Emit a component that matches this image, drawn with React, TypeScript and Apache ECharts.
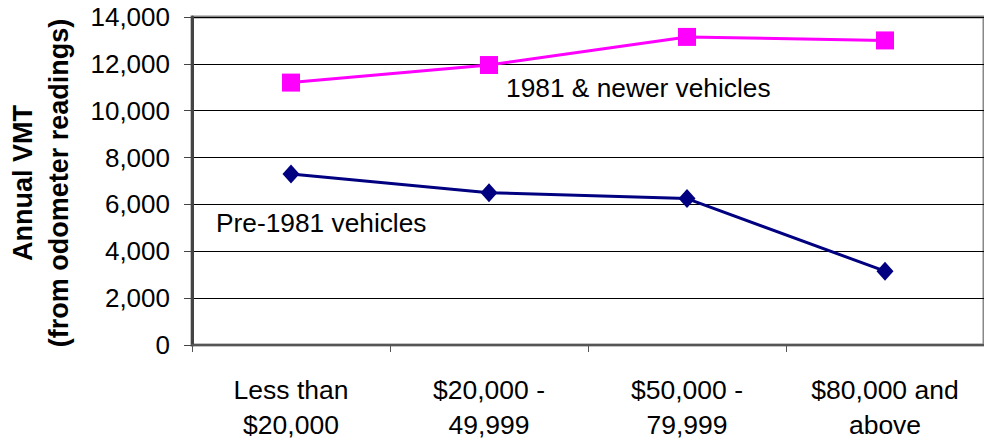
import React, { useEffect, useRef } from "react";
import * as echarts from "echarts";

const categories = ["Less than\n$20,000", "$20,000 -\n49,999", "$50,000 -\n79,999", "$80,000 and\nabove"];
const newerVehicles = [11200, 11950, 13150, 13000];
const preVehicles = [7300, 6500, 6250, 3150];
const yMin = 0;
const yMax = 14000;
const yInterval = 2000;

const FONT = "'Liberation Sans', Arial, sans-serif";

export default function App() {
  const ref = useRef<HTMLDivElement>(null);
  useEffect(() => {
    if (!ref.current) return;
    const chart = echarts.init(ref.current, null, { renderer: "svg" });
    chart.setOption({
      animation: false,
      backgroundColor: "#ffffff",
      grid: {
        left: 192,
        top: 17,
        width: 800,
        height: 332,
        show: true,
        borderColor: "#888888",
        borderWidth: 3,
        backgroundColor: "transparent",
      },
      xAxis: {
        type: "category",
        data: categories,
        boundaryGap: true,
        axisLine: { show: true, lineStyle: { color: "#555555", width: 2 } },
        axisTick: { show: true, length: 7, alignWithLabel: false, lineStyle: { color: "#555555", width: 1 } },
        axisLabel: {
          color: "#000000",
          fontFamily: FONT,
          fontSize: 26.5,
          lineHeight: 35,
          margin: 27,
          interval: 0,
        },
        splitLine: { show: false },
      },
      yAxis: {
        type: "value",
        min: yMin,
        max: yMax,
        interval: yInterval,
        axisLine: { show: true, lineStyle: { color: "#444444", width: 3 } },
        axisTick: { show: true, length: 8, lineStyle: { color: "#444444", width: 1 } },
        axisLabel: {
          color: "#000000",
          fontFamily: FONT,
          fontSize: 26,
          margin: 22,
          padding: [7, 0, 0, 0],
          formatter: (v: number) => v.toLocaleString("en-US"),
        },
        splitLine: { show: true, lineStyle: { color: "#000000", width: 1 } },
      },
      graphic: [
        {
          type: "text",
          x: 41,
          y: 183,
          rotation: Math.PI / 2,
          style: {
            text: "Annual VMT\n(from odometer readings)",
            fontFamily: FONT,
            fontSize: 27,
            fontWeight: "bold",
            lineHeight: 36,
            fill: "#000000",
            textAlign: "center",
            textVerticalAlign: "middle",
          },
        },
        {
          type: "text",
          x: 506,
          y: 88,
          style: {
            text: "1981 & newer vehicles",
            fontFamily: FONT,
            fontSize: 26.3,
            fill: "#000000",
            textAlign: "left",
            textVerticalAlign: "middle",
          },
        },
        {
          type: "text",
          x: 216,
          y: 223,
          style: {
            text: "Pre-1981 vehicles",
            fontFamily: FONT,
            fontSize: 26.3,
            fill: "#000000",
            textAlign: "left",
            textVerticalAlign: "middle",
          },
        },
      ],
      series: [
        {
          name: "1981 & newer vehicles",
          type: "line",
          data: newerVehicles,
          symbol: "rect",
          symbolSize: 18,
          itemStyle: { color: "#FF00FF" },
          lineStyle: { color: "#FF00FF", width: 3 },
          z: 3,
        },
        {
          name: "Pre-1981 vehicles",
          type: "line",
          data: preVehicles,
          symbol: "diamond",
          symbolSize: [17, 19],
          itemStyle: { color: "#000080" },
          lineStyle: { color: "#000080", width: 3 },
          z: 3,
        },
      ],
    });
    return () => chart.dispose();
  }, []);
  return (
    <div
      ref={ref}
      style={{ position: "fixed", left: 0, top: 0, width: 984, height: 442 }}
    />
  );
}
